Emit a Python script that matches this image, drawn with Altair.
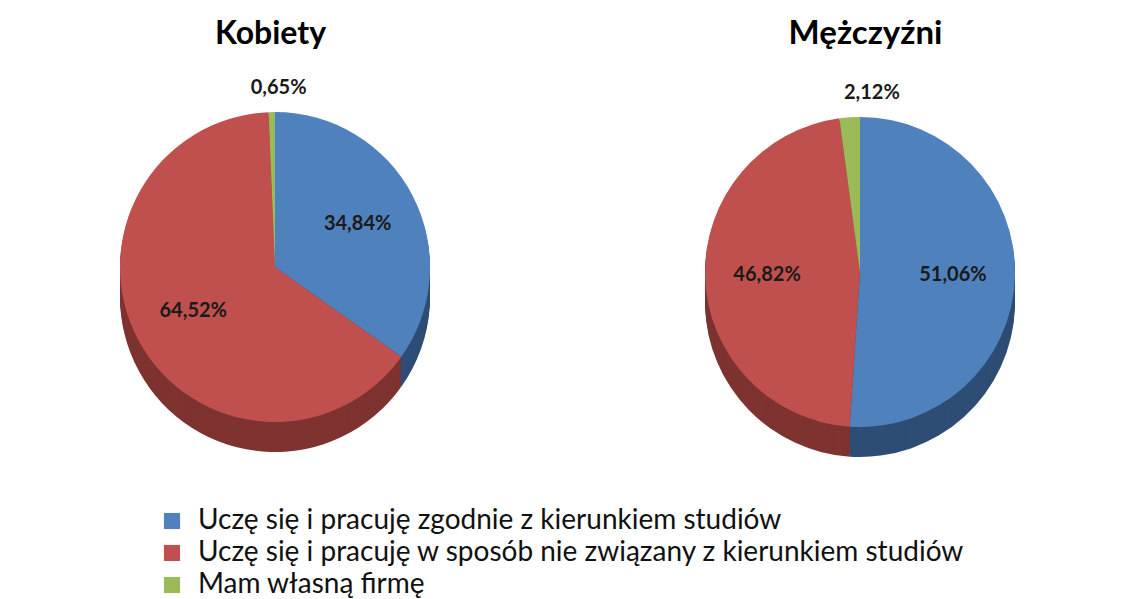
import altair as alt
import pandas as pd

categories = [
    "Uczę się i pracuję zgodnie z kierunkiem studiów",
    "Uczę się i pracuję w sposób nie  związany z kierunkiem studiów",
    "Mam własną firmę",
]
kobiety = [34.84, 64.52, 0.65]
mezczyzni = [51.06, 46.82, 2.12]
titles = ["Kobiety", "Mężczyźni"]

top_colors = ["#4F81BD", "#C0504D", "#9BBB59"]
side_colors = ["#2E4D74", "#7E3331", "#667C3A"]

FONT = "Lato"
R = 155
DEPTH = 30


def make_df(values):
    return pd.DataFrame({
        "category": categories,
        "value": values,
        "order": list(range(len(values))),
        "label": [f"{v:.2f}".replace(".", ",") + "%" for v in values],
    })


def pie(values, title, cx, cy, title_dx, title_size):
    df = make_df(values)
    base = alt.Chart(df).encode(
        theta=alt.Theta("value:Q", stack=True),
        order=alt.Order("order:Q"),
    )
    layers = []
    for off in range(DEPTH, 0, -2):
        layers.append(
            base.transform_calculate(side="'s' + datum.order").mark_arc(radius=R).encode(
                fill=alt.Fill("side:N",
                              scale=alt.Scale(domain=["s0", "s1", "s2"], range=side_colors),
                              legend=None),
                x=alt.value(cx), y=alt.value(cy + off),
            )
        )
    layers.append(
        base.mark_arc(radius=R).encode(
            color=alt.Color("category:N", sort=categories,
                            scale=alt.Scale(domain=categories, range=top_colors),
                            legend=alt.Legend(title=None)),
            x=alt.value(cx), y=alt.value(cy),
        )
    )
    labels = base.transform_calculate(
        lr=f"datum.value < 5 ? {R + 24} : {R * 0.6}"
    ).mark_text(font=FONT, fontSize=20, fontWeight="bold", color="#1a1a1a").encode(
        radius=alt.Radius("lr:Q", scale=None),
        text="label:N",
        x=alt.value(cx), y=alt.value(cy),
    )
    layers.append(labels)
    return alt.layer(*layers).properties(
        width=545, height=515,
        title=alt.TitleParams(title, fontSize=title_size, fontWeight="bold", font=FONT,
                              color="#000000", dx=title_dx, offset=16),
    )


left = pie(kobiety, titles[0], 267, 200, -10, 32)
right = pie(mezczyzni, titles[1], 307, 205, 40, 33)

chart = alt.hconcat(left, right, spacing=0).properties(
    padding={"top": 10, "left": 0, "right": 0, "bottom": 0}
).configure_view(
    stroke=None
).configure_legend(
    orient="none", legendX=150, legendY=440,
    direction="vertical", labelFont=FONT, labelFontSize=28,
    labelColor="#111111", symbolType="square", symbolSize=260, symbolStrokeWidth=0,
    rowPadding=4, labelLimit=0, labelOffset=12,
)

chart.save("out.html", embed_options={"renderer": "svg", "actions": False})
